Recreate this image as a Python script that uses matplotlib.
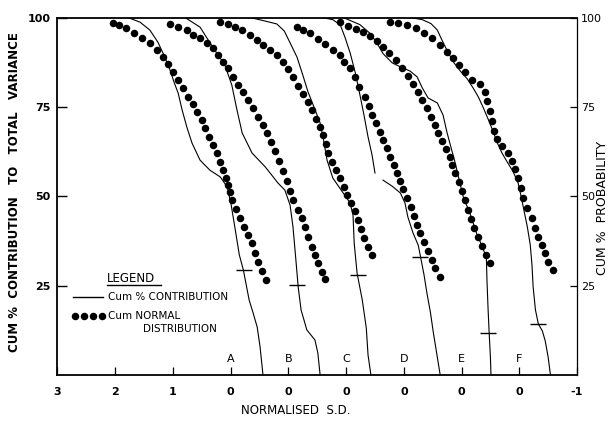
import numpy as np
import matplotlib
matplotlib.use("Agg")
import matplotlib.pyplot as plt

# each curve is drawn against its own zero (A..F); values are (normalised S.D., cum %)
letters = ["A", "B", "C", "D", "E", "F"]

cum_A = [(1.78, 100), (1.57, 98.7), (1.40, 96.5), (1.26, 93.1), (1.14, 88.9), (1.05, 85.3),
         (0.98, 81.9), (0.91, 78.9), (0.84, 74.1), (0.76, 69.4), (0.67, 64.9), (0.53, 60.1),
         (0.36, 57.3), (0.18, 55.4), (0.06, 52.6), (-0.01, 47.5), (-0.08, 40.6), (-0.15, 33.6),
         (-0.22, 29.4), (-0.27, 25.2), (-0.32, 21.0), (-0.39, 17.3), (-0.46, 13.4), (-0.51, 7.8),
         (-0.56, 0)]
cum_B = [(1.79, 100), (1.53, 97.3), (1.31, 91.7), (1.10, 86.7), (0.98, 81.1), (0.89, 74.1),
         (0.80, 67.7), (0.63, 62.1), (0.40, 58.2), (0.18, 53.7), (0.06, 51.7), (-0.03, 47.5),
         (-0.08, 41.4), (-0.13, 32.2), (-0.17, 24.6), (-0.22, 18.2), (-0.32, 12.6), (-0.46, 9.8),
         (-0.51, 6.2), (-0.55, 0)]
cum_C = [(1.66, 100), (1.40, 99.0), (1.20, 98.2), (1.07, 96.2), (0.97, 92.9), (0.85, 88.9),
         (0.75, 83.9), (0.66, 79.2), (0.55, 74.7), (0.45, 70.5), (0.40, 66.6), (0.33, 60.1),
         (0.23, 55.1), (0.05, 50.9), (-0.07, 48.1), (-0.12, 44.7), (-0.14, 36.9), (-0.19, 28.5),
         (-0.28, 21.0), (-0.35, 13.1), (-0.38, 5.6), (-0.43, 0)]
cum_D = [(1.42, 100), (1.23, 99.4), (1.10, 97.9), (1.02, 94.5), (0.93, 90.1), (0.84, 84.5),
         (0.76, 78.3), (0.69, 72.7), (0.62, 66.6), (0.55, 61.5), (0.50, 56.5), (np.nan, np.nan),
         (0.36, 54.5), (0.20, 52.8), (0.06, 50.9), (-0.02, 48.1), (-0.07, 44.2), (-0.16, 39.7),
         (-0.25, 36.3), (-0.30, 32.2), (-0.35, 28.0), (-0.40, 22.9), (-0.46, 17.6), (-0.51, 12.0),
         (-0.58, 5.0), (-0.63, 0)]
cum_E = [(2.05, 100), (1.76, 98.0), (1.58, 95.5), (1.46, 92.7), (1.36, 89.9), (1.20, 87.3),
         (1.06, 86.2), (0.89, 85.0), (0.77, 83.4), (0.68, 80.3), (0.58, 77.5), (0.42, 76.1),
         (0.32, 72.7), (0.25, 67.7), (0.18, 63.5), (0.11, 59.3), (0.04, 54.5), (-0.03, 49.8),
         (-0.15, 45.0), (-0.27, 39.2), (-0.37, 35.5), (-0.43, 32.7), (-0.44, 26.6), (-0.46, 18.2),
         (-0.48, 11.2), (-0.50, 5.0), (-0.51, 0)]
cum_F = [(1.89, 100), (1.68, 99.4), (1.53, 98.3), (1.42, 96.5), (1.34, 93.7), (1.23, 90.1),
         (1.13, 87.3), (1.02, 85.0), (0.90, 82.8), (0.80, 80.3), (0.71, 77.8), (0.63, 75.0),
         (0.54, 71.6), (0.45, 68.0), (0.38, 64.9), (0.30, 62.1), (0.21, 59.6), (0.11, 57.0),
         (0.02, 53.7), (-0.03, 50.1), (-0.08, 46.1), (-0.14, 41.4), (-0.19, 36.4), (-0.22, 30.8),
         (-0.24, 24.6), (-0.28, 18.2), (-0.33, 14.3), (-0.40, 12.3), (-0.45, 9.5), (-0.50, 5.0),
         (-0.54, 0)]

norm_A = [(2.04, 98.5), (1.93, 97.9), (1.81, 97.1), (1.67, 95.7), (1.54, 94.3), (1.40, 92.9),
          (1.28, 90.9), (1.17, 88.9), (1.08, 87.0), (1.00, 84.8), (0.91, 82.6), (0.82, 80.3),
          (0.74, 77.8), (0.65, 75.8), (0.58, 73.6), (0.50, 71.3), (0.44, 69.1), (0.37, 66.6),
          (0.31, 64.3), (0.24, 62.1), (0.18, 59.6), (0.13, 57.3), (0.08, 55.1), (0.05, 53.1),
          (0.01, 51.2), (-0.02, 48.9), (-0.09, 46.4), (-0.16, 43.9), (-0.23, 41.4), (-0.30, 39.2),
          (-0.37, 36.9), (-0.42, 34.1), (-0.47, 31.6), (-0.55, 29.1), (-0.61, 26.6)]
norm_B = [(2.05, 98.2), (1.91, 97.3), (1.76, 96.5), (1.65, 95.1), (1.53, 94.3), (1.41, 92.9),
          (1.31, 91.5), (1.22, 89.5), (1.13, 87.5), (1.05, 85.9), (0.96, 83.4), (0.87, 81.1),
          (0.79, 79.2), (0.70, 76.9), (0.61, 74.7), (0.53, 72.2), (0.44, 69.9), (0.37, 67.7),
          (0.30, 65.2), (0.23, 62.7), (0.16, 59.9), (0.09, 57.0), (0.02, 54.3), (-0.03, 51.5),
          (-0.08, 48.9), (-0.17, 46.1), (-0.24, 43.9), (-0.29, 41.4), (-0.34, 38.6), (-0.41, 35.8),
          (-0.46, 33.6), (-0.51, 31.3), (-0.58, 28.8), (-0.64, 26.9)]
norm_C = [(2.18, 98.7), (2.05, 98.2), (1.92, 97.3), (1.80, 96.5), (1.66, 95.1), (1.54, 93.7),
          (1.44, 92.3), (1.32, 90.9), (1.20, 89.5), (1.09, 87.5), (1.01, 85.6), (0.92, 83.4),
          (0.83, 80.8), (0.75, 78.6), (0.66, 76.4), (0.59, 74.1), (0.52, 71.6), (0.45, 69.4),
          (0.40, 67.1), (0.35, 64.6), (0.31, 62.1), (0.24, 59.6), (0.17, 57.3), (0.10, 55.1),
          (0.03, 52.6), (-0.02, 50.3), (-0.09, 48.1), (-0.16, 45.9), (-0.21, 43.4), (-0.26, 40.8),
          (-0.31, 38.3), (-0.38, 35.8), (-0.45, 33.6)]
norm_D = [(1.85, 97.3), (1.75, 96.5), (1.62, 95.7), (1.49, 94.0), (1.36, 92.6), (1.23, 90.9),
          (1.10, 89.5), (1.03, 87.5), (0.93, 85.9), (0.84, 83.4), (0.77, 80.6), (0.67, 77.8),
          (0.60, 75.2), (0.55, 72.7), (0.48, 70.5), (0.41, 68.0), (0.36, 65.7), (0.29, 63.5),
          (0.24, 61.0), (0.17, 58.7), (0.12, 56.5), (0.06, 54.3), (0.01, 52.0), (-0.06, 49.5),
          (-0.13, 47.0), (-0.18, 44.5), (-0.23, 42.0), (-0.28, 39.7), (-0.35, 37.2), (-0.42, 34.7),
          (-0.49, 32.2), (-0.54, 29.9), (-0.63, 27.4)]
norm_E = [(2.10, 98.7), (1.97, 97.6), (1.83, 96.8), (1.71, 95.9), (1.58, 94.8), (1.46, 93.4),
          (1.36, 91.7), (1.25, 90.1), (1.13, 88.1), (1.03, 85.9), (0.93, 83.6), (0.84, 81.4),
          (0.75, 79.2), (0.68, 76.9), (0.60, 74.7), (0.53, 72.2), (0.46, 69.9), (0.41, 67.7),
          (0.34, 65.4), (0.27, 63.2), (0.20, 61.0), (0.16, 58.7), (0.11, 56.5), (0.04, 54.0),
          (-0.01, 51.5), (-0.06, 48.9), (-0.11, 46.1), (-0.17, 43.6), (-0.22, 41.1), (-0.29, 38.6),
          (-0.36, 36.1), (-0.43, 33.6), (-0.50, 31.3)]
norm_F = [(2.24, 98.7), (2.10, 98.5), (1.94, 97.9), (1.79, 97.1), (1.65, 95.7), (1.51, 94.3),
          (1.37, 92.3), (1.25, 90.3), (1.15, 88.7), (1.04, 86.7), (0.94, 84.8), (0.82, 82.6),
          (0.68, 81.4), (0.59, 79.2), (0.56, 76.6), (0.50, 73.8), (0.47, 71.0), (0.44, 68.2),
          (0.38, 66.0), (0.30, 64.1), (0.19, 62.1), (0.12, 59.9), (0.07, 57.6), (0.02, 55.1),
          (-0.03, 52.3), (-0.07, 49.5), (-0.14, 46.7), (-0.22, 43.9), (-0.28, 41.1), (-0.33, 38.6),
          (-0.40, 36.4), (-0.45, 34.1), (-0.50, 31.6), (-0.59, 29.4)]

# short horizontal marks across each contribution curve
marks = [(-0.23, 29.4), (-0.15, 25.2), (-0.21, 28.0), (-0.28, 33.0), (-0.46, 11.7), (-0.33, 14.3)]

cum_curves = [cum_A, cum_B, cum_C, cum_D, cum_E, cum_F]
norm_curves = [norm_A, norm_B, norm_C, norm_D, norm_E, norm_F]

x_ticks = [3, 2, 1, 0, -1, -2, -3, -4, -5, -6]
x_ticklabels = ["3", "2", "1", "0", "0", "0", "0", "0", "0", "-1"]
y_ticks = [25, 50, 75, 100]

fig = plt.figure(figsize=(6.16, 4.23), dpi=100)
ax = fig.add_axes([0.0933, 0.1135, 0.8434, 0.8451])

for k in range(6):
    c = np.array(cum_curves[k], dtype=float)
    ax.plot(c[:, 0] - k, c[:, 1], color="black", lw=0.8, zorder=3)
    d = np.array(norm_curves[k], dtype=float)
    ax.plot(d[:, 0] - k, d[:, 1], ls="none", marker="o", ms=4.4, color="black", zorder=4)
    ax.plot(marks[k][0] - k, marks[k][1], marker="_", ms=11, mew=1.0, color="black", zorder=4)
    ax.text(-k, 3.2, letters[k], ha="center", va="bottom", fontsize=8)

ax.set_xlim(3, -6)
ax.set_ylim(0, 100)

ax.set_xticks(x_ticks)
ax.set_xticklabels(x_ticklabels, fontsize=8, fontweight="bold")
ax.tick_params(axis="x", direction="in", length=6, width=0.9, pad=9)
ax.set_yticks(y_ticks)
ax.set_yticklabels([str(v) for v in y_ticks], fontsize=8, fontweight="bold")
ax.tick_params(axis="y", direction="in", length=7, width=1.0, pad=5)

for side in ["left", "bottom", "top"]:
    ax.spines[side].set_linewidth(1.3)
ax.spines["right"].set_linewidth(0.9)

ax2 = ax.twinx()
ax2.set_ylim(0, 100)
ax2.set_yticks(y_ticks)
ax2.set_yticklabels([str(v) for v in y_ticks], fontsize=8)
ax2.tick_params(axis="y", direction="in", length=5, width=0.9, pad=3)
for side in ["left", "bottom", "top", "right"]:
    ax2.spines[side].set_visible(False)

ax.text(-0.0835, 0.511, "CUM %  CONTRIBUTION   TO   TOTAL   VARIANCE", transform=ax.transAxes,
        rotation=90, ha="center", va="center", fontsize=8.5, fontweight="bold")
ax.text(1.050, 0.467, "CUM %  PROBABILITY", transform=ax.transAxes,
        rotation=90, ha="center", va="center", fontsize=9)
ax.text(0.459, -0.098, "NORMALISED  S.D.", transform=ax.transAxes,
        ha="center", va="center", fontsize=8.5)

# hand drawn legend box contents
ax.text(0.095, 0.271, "LEGEND", transform=ax.transAxes, ha="left", va="center", fontsize=8.5)
ax.plot([0.095, 0.199], [0.252, 0.252], transform=ax.transAxes, color="black", lw=1.0)
ax.plot([0.030, 0.088], [0.218, 0.218], transform=ax.transAxes, color="black", lw=1.0)
ax.text(0.097, 0.218, "Cum % CONTRIBUTION", transform=ax.transAxes, ha="left", va="center", fontsize=7.5)
ax.plot([0.034, 0.051, 0.068, 0.086], [0.165] * 4, transform=ax.transAxes,
        ls="none", marker="o", ms=4.4, color="black")
ax.text(0.097, 0.165, "Cum NORMAL", transform=ax.transAxes, ha="left", va="center", fontsize=7.5)
ax.text(0.165, 0.129, "DISTRIBUTION", transform=ax.transAxes, ha="left", va="center", fontsize=7.5)

fig.savefig("out.png", dpi=100)
